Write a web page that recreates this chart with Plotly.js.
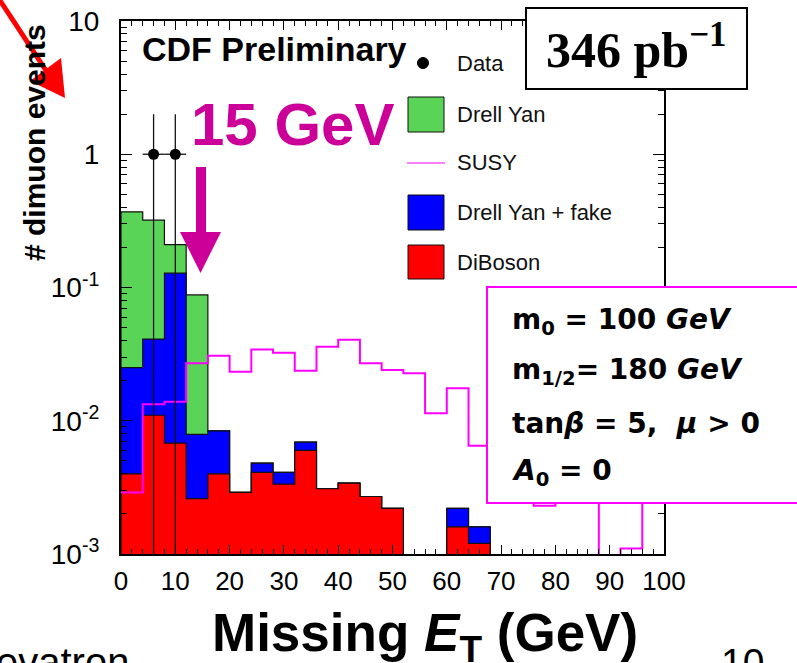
<!DOCTYPE html>
<html><head><meta charset="utf-8">
<script src="https://cdn.plot.ly/plotly-3.0.1.min.js"></script>
<style>html,body{margin:0;padding:0;background:#fff;overflow:hidden}#chart{width:797px;height:663px}</style>
</head><body><div id="chart"></div>
<script>
// ---------- data ----------
const binEdges = [0,4,8,12,16,20,24,28,32,36,40,44,48,52,56,60,64,68,72,76,80,84,88,92,96,100];
// DiBoson (bottom of stack)
const diBoson   = [0.0040,0.0110,0.0068,0.0026,0.0040,0.0029,0.0041,0.00335,0.0060,0.0031,0.0034,0.0027,0.0022,0,0,0.0016,0.0012,0,0,0,0,0,0,0,0];
// "Drell Yan + fake" contribution stacked on top of DiBoson
const dyFake    = [0.0210,0.0300,0.1212,0.0053,0.0044,0,0.0007,0.00075,0.0009,0,0,0,0,0,0,0.0006,0.0004,0,0,0,0,0,0,0,0];
// Drell Yan contribution stacked on top
const drellYan  = [0.345,0.279,0.082,0.0801,0,0,0,0,0,0,0,0,0,0,0,0,0,0,0,0,0,0,0,0,0];
// SUSY signal (line)
const susy      = [0.0029,0.0133,0.0139,0.027,0.0307,0.0233,0.0343,0.0324,0.0237,0.0359,0.0405,0.027,0.024,0.0227,0.0114,0.0175,0.0065,0.009,0.005,0.0023,0.004,0.003,0,0.0011,0.003];
// Data points
const dataX = [6,10];
const dataY = [1,1];
const dataErrY = [1,1];
const dataErrX = [2,2];
// tick labels
const xTickVals = [0,10,20,30,40,50,60,70,80,90,100];
const xTickText = ['0','10','20','30','40','50','60','70','80','90','100'];
const yTickVals = [0.001,0.01,0.1,1,10];
const yTickText = ['10<sup>-3</sup>','10<sup>-2</sup>','10<sup>-1</sup>','1','10'];

// ---------- helpers ----------
const FLOOR = 1e-5; // empty bins drawn below the visible log range
function cum(a,b){ return a.map((v,i)=>v+b[i]); }
function stepClosed(vals){
  const xs=[binEdges[0]], ys=[FLOOR];
  vals.forEach((v,i)=>{ xs.push(binEdges[i]); ys.push(v>0?v:FLOOR); });
  const last = vals[vals.length-1];
  xs.push(binEdges[binEdges.length-1]); ys.push(last>0?last:FLOOR);
  xs.push(binEdges[binEdges.length-1]); ys.push(FLOOR);
  return {x:xs,y:ys};
}
function stepOpen(vals){
  const xs=[], ys=[];
  vals.forEach((v,i)=>{ xs.push(binEdges[i]); ys.push(v>0?v:FLOOR); });
  const last = vals[vals.length-1];
  xs.push(binEdges[binEdges.length-1]); ys.push(last>0?last:FLOOR);
  return {x:xs,y:ys};
}
const redTop = diBoson.slice();
const blueTop = cum(redTop, dyFake);
const greenTop = cum(blueTop, drellYan);

const GREEN='rgb(90,212,86)', BLUE='#0000ff', RED='#ff0000', MAG='#ff00ff', MAGTXT='rgb(204,0,153)';

function histTrace(vals,color,name){
  const s=stepClosed(vals);
  return {type:'scatter',mode:'lines',x:s.x,y:s.y,name:name,line:{shape:'hv',color:'#111',width:1.2},
          fill:'toself',fillcolor:color,hoverinfo:'skip'};
}
const s = stepOpen(susy);
const traces = [
  histTrace(greenTop,GREEN,'Drell Yan'),
  histTrace(blueTop,BLUE,'Drell Yan + fake'),
  histTrace(redTop,RED,'DiBoson'),
  {type:'scatter',mode:'lines',x:s.x,y:s.y,name:'SUSY',line:{shape:'hv',color:MAG,width:2}},
  {type:'scatter',mode:'markers',x:dataX,y:dataY,name:'Data',marker:{color:'black',size:11},
   error_y:{type:'data',array:dataErrY,arrayminus:dataErrY,width:0,thickness:1.3,color:'#111'},
   error_x:{type:'data',array:dataErrX,arrayminus:dataErrX,width:0,thickness:1.3,color:'#111'}}
];

// pixel -> paper
const L=121, R=664, T=21, B=554;
const X = v => (v-L)/(R-L);
const Y = v => (B-v)/(B-T);

const minorY=[];
[0.001,0.01,0.1,1].forEach(d=>{for(let k=2;k<=9;k++) minorY.push(d*k);});

const shapes = [
  // red arrow top-left
  {type:'line',xref:'paper',yref:'paper',x0:X(-3),y0:Y(-4),x1:X(47),y1:Y(72),line:{color:RED,width:5}},
  {type:'path',xref:'paper',yref:'paper',path:`M${X(65)},${Y(98)} L${X(30)},${Y(81)} L${X(61)},${Y(58)} Z`,fillcolor:RED,line:{width:0}},
  // 15 GeV arrow
  {type:'path',xref:'paper',yref:'paper',
   path:`M${X(196)},${Y(167)} L${X(206)},${Y(167)} L${X(206)},${Y(232)} L${X(221)},${Y(232)} L${X(200.5)},${Y(273)} L${X(180)},${Y(232)} L${X(196)},${Y(232)} Z`,
   fillcolor:MAGTXT,line:{width:0}},
  // luminosity box
  {type:'rect',xref:'paper',yref:'paper',x0:X(526),x1:X(747),y0:Y(89),y1:Y(8),fillcolor:'white',line:{color:'black',width:2}},
  // SUSY parameter box
  {type:'rect',xref:'paper',yref:'paper',x0:X(487),x1:X(805),y0:Y(503),y1:Y(287),fillcolor:'white',line:{color:MAG,width:2}},
  // legend symbols
  {type:'circle',xref:'paper',yref:'paper',x0:X(417.5),x1:X(428.5),y0:Y(68.5),y1:Y(57.5),fillcolor:'black',line:{color:'black',width:1}},
  {type:'rect',xref:'paper',yref:'paper',x0:X(408),x1:X(444),y0:Y(132),y1:Y(97),fillcolor:GREEN,line:{color:'#111',width:1}},
  {type:'line',xref:'paper',yref:'paper',x0:X(407),x1:X(445),y0:Y(163),y1:Y(163),line:{color:MAG,width:1}},
  {type:'rect',xref:'paper',yref:'paper',x0:X(408),x1:X(444),y0:Y(230),y1:Y(195),fillcolor:BLUE,line:{color:'#111',width:1}},
  {type:'rect',xref:'paper',yref:'paper',x0:X(408),x1:X(444),y0:Y(279),y1:Y(245),fillcolor:RED,line:{color:'#111',width:1}}
];

const SANS='Liberation Sans, Arial, Helvetica, sans-serif';
const PAR='DejaVu Sans, Verdana, sans-serif';
function ann(text,x,y,opt){
  return Object.assign({text:text,xref:'paper',yref:'paper',x:X(x),y:Y(y),showarrow:false,
    xanchor:'left',yanchor:'middle',font:{family:SANS,size:22,color:'#111'}},opt||{});
}
const annotations = [
  ann('<b>CDF Preliminary</b>',140,48.5,{font:{family:SANS,size:34,color:'black'}}),
  ann('<b>15 GeV</b>',189,124,{font:{family:SANS,size:60,color:MAGTXT}}),
  ann('<b>346 pb<sup>−1</sup></b>',636,46,{xanchor:'center',font:{family:'Liberation Serif, Times New Roman, serif',size:50,color:'black'}}),
  ann('Data',455,63),
  ann('Drell Yan',455,114),
  ann('SUSY',455,163),
  ann('Drell Yan + fake',455,212),
  ann('DiBoson',455,262),
  ann('<b>m<sub>0</sub> = 100 <i>GeV</i></b>',510,322,{font:{family:PAR,size:28,color:'black'}}),
  ann('<b>m<sub>1/2</sub>= 180 <i>GeV</i></b>',510,372,{font:{family:PAR,size:28,color:'black'}}),
  ann('<b>tan<i>β</i> = 5,  <i>μ</i> &gt; 0</b>',510,423,{font:{family:PAR,size:28,color:'black'}}),
  ann('<b><i>A</i><sub>0</sub> = 0</b>',510,472,{font:{family:PAR,size:28,color:'black'}}),
  ann('<b># dimuon events</b>',34,143,{xanchor:'center',textangle:-90,font:{family:SANS,size:30,color:'black'}}),
  ann('<b>Missing <i>E</i><sub>T</sub> (GeV)</b>',425,636,{xanchor:'center',font:{family:SANS,size:53,color:'black'}}),
  ann('Tevatron',131,662,{xanchor:'right',font:{family:SANS,size:40,color:'black'}}),
  ann('10',742.5,662,{xanchor:'center',font:{family:SANS,size:39,color:'black'}})
];

const layout = {
  width:797,height:663,margin:{l:L,r:797-R,t:T,b:663-B,pad:0},
  paper_bgcolor:'white',plot_bgcolor:'white',showlegend:false,
  font:{family:SANS,color:'black'},
  xaxis:{range:[0,100],tickmode:'array',tickvals:xTickVals,ticktext:xTickText,
    ticks:'inside',ticklen:9,tickwidth:1,tickcolor:'black',
    showline:true,linecolor:'black',linewidth:2,mirror:'ticks',showgrid:false,zeroline:false,
    tickfont:{family:SANS,size:26,color:'black'},ticklabelstandoff:3,
    minor:{tickmode:'linear',tick0:0,dtick:2,ticks:'inside',ticklen:5,tickwidth:1,tickcolor:'black',showgrid:false}},
  yaxis:{type:'log',range:[-3,1],tickmode:'array',tickvals:yTickVals,ticktext:yTickText,
    ticks:'inside',ticklen:11,tickwidth:1,tickcolor:'black',
    showline:true,linecolor:'black',linewidth:2,mirror:'ticks',showgrid:false,zeroline:false,
    tickfont:{family:SANS,size:28,color:'black'},ticklabelstandoff:14,
    minor:{tickmode:'array',tickvals:minorY,ticks:'inside',ticklen:6,tickwidth:1,tickcolor:'black',showgrid:false}},
  shapes:shapes,annotations:annotations
};
Plotly.newPlot('chart',traces,layout,{displayModeBar:false,staticPlot:true});
</script></body></html>
